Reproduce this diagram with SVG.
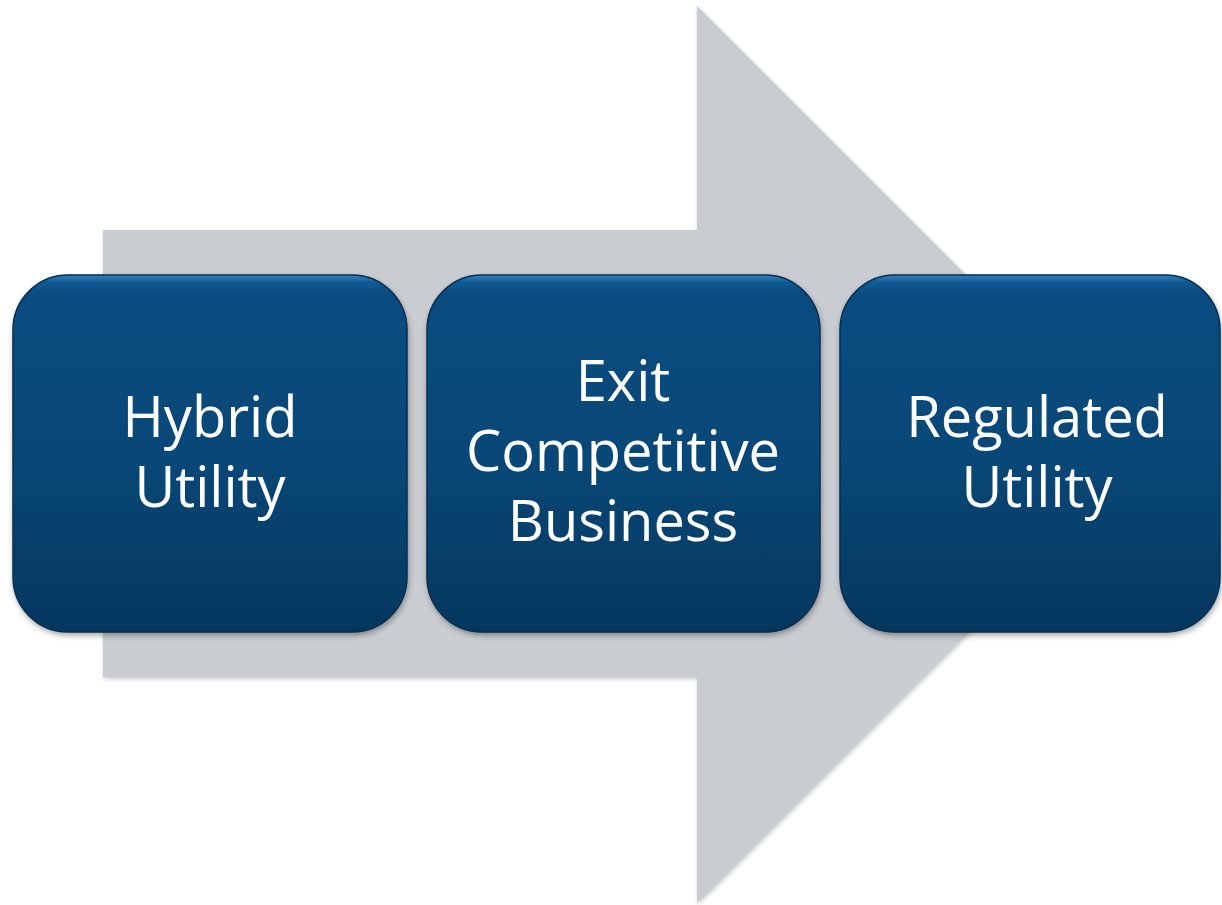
<svg xmlns="http://www.w3.org/2000/svg" width="1222" height="905" viewBox="0 0 1222 905">
<defs>
<linearGradient id="boxg" x1="0" y1="0" x2="0" y2="1">
<stop offset="0" stop-color="#3a82c0"/>
<stop offset="0.02" stop-color="#0f5a95"/>
<stop offset="0.05" stop-color="#0a4c80"/>
<stop offset="0.5" stop-color="#084878"/>
<stop offset="1" stop-color="#05375e"/>
</linearGradient>
<filter id="blur" filterUnits="userSpaceOnUse" x="0" y="0" width="1222" height="905">
<feGaussianBlur stdDeviation="3"/>
</filter>
<filter id="ablur" filterUnits="userSpaceOnUse" x="0" y="0" width="1222" height="905">
<feGaussianBlur stdDeviation="2"/>
</filter>
</defs>
<style>
.box{fill:url(#boxg);stroke:#052f52;stroke-width:1.5}
.sh{fill:#000000;opacity:0.4;filter:url(#blur)}
.t{font-family:"Open Sans","Liberation Sans",sans-serif;font-size:56px;fill:#ffffff;text-anchor:middle}
</style>
<rect width="1222" height="905" fill="#ffffff"/>
<g id="arrow">
<polygon points="104,232 698,232 698,8 1147,457 698,905 698,679 104,679" fill="#000000" opacity="0.22" filter="url(#ablur)"/>
<polygon points="103,230 697,230 697,6 1146,455 697,903 697,677 103,677" fill="#c9ccd1"/>
</g>
<g id="connectors"></g>
<g id="node1">
<rect class="sh" x="14" y="278" width="394" height="357" rx="55" ry="55"/>
<rect class="box" x="13" y="275" width="394" height="357" rx="55" ry="55"/>
<text class="t" x="210" y="437">Hybrid</text>
<text class="t" x="210" y="507">Utility</text>
</g>
<g id="node2">
<rect class="sh" x="428" y="278" width="393" height="357" rx="55" ry="55"/>
<rect class="box" x="427" y="275" width="393" height="357" rx="55" ry="55"/>
<text class="t" x="623" y="401">Exit</text>
<text class="t" x="623" y="471">Competitive</text>
<text class="t" x="623" y="541">Business</text>
</g>
<g id="node3">
<rect class="sh" x="841" y="278" width="380" height="357" rx="55" ry="55"/>
<rect class="box" x="840" y="275" width="380" height="357" rx="55" ry="55"/>
<text class="t" x="1037" y="437">Regulated</text>
<text class="t" x="1037" y="507">Utility</text>
</g>
</svg>
